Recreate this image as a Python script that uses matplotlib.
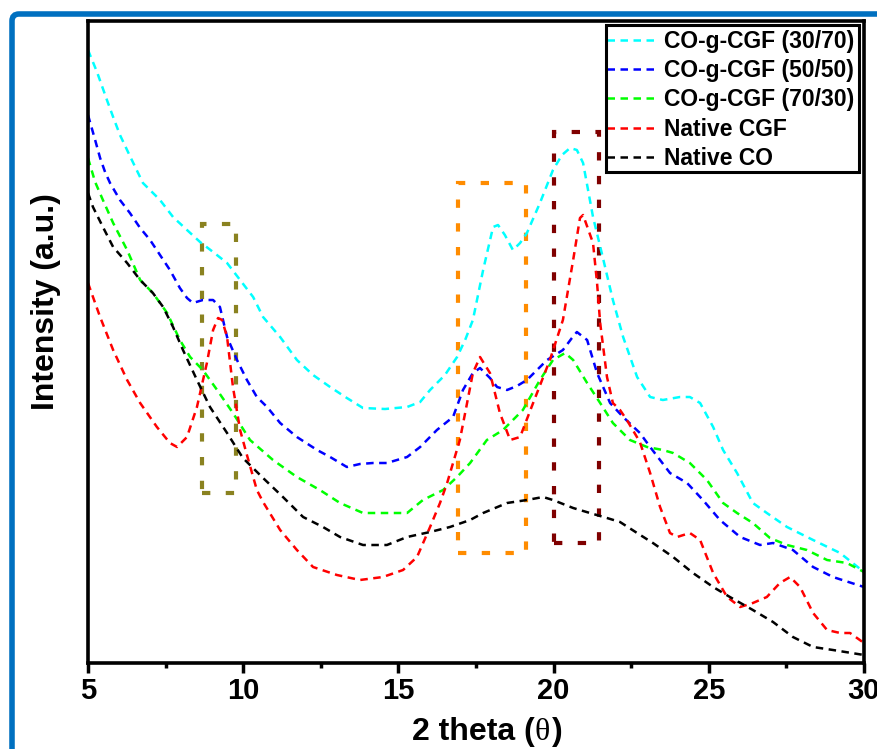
import matplotlib
matplotlib.use('Agg')
import matplotlib.pyplot as plt
from matplotlib.patches import Rectangle, FancyBboxPatch
from matplotlib.transforms import IdentityTransform
from matplotlib.ticker import MultipleLocator

plt.rcParams['font.family'] = ['Liberation Sans', 'DejaVu Sans']
plt.rcParams['font.weight'] = 'bold'

# XRD patterns, 2 theta (deg) vs intensity (a.u., stacked)
theta_3070 = [5.00, 5.29, 5.61, 5.81, 6.03, 6.35, 6.77, 7.32, 7.74, 8.19, 8.61, 9.03, 9.48, 9.90,
              10.32, 10.64, 11.19, 11.73, 12.25, 12.80, 13.34, 13.86, 14.57, 15.28, 15.70, 16.02,
              16.50, 16.89, 17.15, 17.40, 17.73, 18.05, 18.21, 18.43, 18.69, 18.92, 19.14, 19.56,
              19.98, 20.27, 20.53, 20.75, 20.95, 21.27, 21.59, 21.91, 22.24, 22.69, 23.11, 23.52,
              24.07, 24.39, 24.72, 25.14, 25.46, 25.91, 26.42, 26.87, 27.52, 28.36, 29.23, 30.00]
int_3070 = [613, 591, 563, 546, 528, 507, 480, 463, 446, 433, 421, 411, 400, 383,
            366, 346, 326, 303, 288, 276, 265, 255, 254, 256, 261, 273,
            288, 306, 323, 343, 393, 436, 438, 428, 413, 420, 430, 460,
            493, 508, 515, 513, 500, 446, 405, 363, 326, 286, 266, 263,
            266, 266, 260, 236, 213, 190, 160, 150, 136, 123, 110, 91]

theta_5050 = [5.00, 5.23, 5.39, 5.55, 5.71, 6.03, 6.35, 6.68, 7.00, 7.32, 7.64, 7.96, 8.19, 8.38,
              8.70, 9.03, 9.25, 9.48, 9.80, 10.12, 10.44, 10.77, 11.19, 11.73, 12.38, 12.80, 13.34,
              13.76, 14.18, 14.63, 15.28, 15.70, 16.24, 16.76, 17.08, 17.40, 17.63, 17.95, 18.18,
              18.50, 18.82, 19.14, 19.79, 20.30, 20.59, 20.75, 21.08, 21.40, 21.82, 22.24, 22.78,
              23.11, 23.75, 24.30, 24.81, 25.36, 26.01, 26.65, 27.07, 27.71, 28.36, 29.00, 30.00]
int_5050 = [548, 523, 505, 491, 480, 463, 450, 435, 423, 408, 393, 375, 365, 360,
            363, 363, 356, 326, 303, 283, 266, 256, 240, 226, 213, 206, 196,
            199, 200, 200, 206, 216, 233, 246, 273, 290, 295, 285, 276,
            273, 277, 283, 303, 313, 325, 331, 323, 290, 260, 246, 230,
            216, 190, 180, 163, 143, 126, 118, 120, 113, 96, 86, 76]

theta_7030 = [5.00, 5.23, 5.48, 5.81, 6.26, 6.68, 7.09, 7.55, 7.96, 8.29, 8.70, 9.16, 9.67, 10.22,
              10.96, 11.73, 12.47, 13.12, 13.86, 14.63, 15.28, 15.79, 16.44, 16.89, 17.31, 17.85,
              18.37, 19.01, 19.56, 19.98, 20.37, 20.63, 21.08, 21.50, 21.91, 22.46, 23.01, 23.52,
              23.85, 24.39, 24.94, 25.46, 25.91, 26.42, 26.97, 27.52, 28.16, 28.81, 29.45, 30.00]
int_7030 = [505, 481, 463, 440, 413, 383, 370, 350, 323, 306, 293, 273, 250, 223,
            203, 186, 173, 160, 150, 150, 150, 163, 173, 186, 200, 223,
            233, 253, 283, 303, 310, 303, 280, 260, 240, 223, 216, 213,
            210, 200, 183, 160, 150, 140, 125, 118, 113, 103, 100, 91]

theta_cgf = [5.00, 5.39, 5.81, 6.26, 6.68, 7.22, 7.64, 7.87, 8.19, 8.51, 8.83, 9.03, 9.19, 9.32,
             9.48, 9.67, 9.90, 10.12, 10.44, 10.64, 11.19, 11.73, 12.25, 13.02, 13.76, 14.50,
             15.15, 15.60, 16.02, 16.34, 16.57, 16.76, 16.98, 17.15, 17.40, 17.63, 17.95, 18.27,
             18.60, 18.92, 19.34, 19.88, 20.30, 20.63, 20.85, 20.95, 21.27, 21.40, 21.50, 21.72,
             21.91, 22.14, 22.36, 22.78, 23.11, 23.43, 23.75, 23.98, 24.39, 24.72, 25.14, 25.59,
             26.01, 26.42, 26.87, 27.29, 27.62, 27.94, 28.36, 28.81, 29.23, 29.55, 30.00]
int_cgf = [380, 346, 313, 283, 260, 236, 220, 216, 226, 256, 300, 333, 345, 343,
           326, 276, 233, 208, 173, 161, 133, 113, 96, 88, 83, 86,
           93, 106, 136, 160, 180, 200, 223, 250, 290, 306, 290, 250,
           223, 226, 260, 303, 343, 403, 445, 448, 420, 380, 340, 286,
           260, 253, 243, 221, 190, 156, 130, 126, 130, 123, 90, 66,
           56, 60, 66, 80, 86, 76, 50, 33, 30, 30, 20]

theta_co = [5.00, 5.16, 5.48, 5.81, 6.26, 6.68, 7.09, 7.42, 7.74, 8.06, 8.51, 8.93, 9.48, 9.99,
            10.64, 11.28, 11.93, 12.57, 13.12, 13.86, 14.63, 15.28, 16.02, 16.66, 17.31, 17.73,
            18.50, 19.14, 19.66, 19.98, 20.63, 21.17, 21.72, 22.14, 22.69, 23.20, 23.85, 24.49,
            25.14, 25.68, 26.42, 27.07, 27.71, 28.36, 29.00, 30.00]
int_co = [470, 456, 436, 416, 400, 383, 370, 356, 336, 313, 283, 256, 230, 205,
          185, 166, 146, 136, 126, 118, 118, 126, 131, 136, 143, 150,
          160, 163, 166, 163, 155, 150, 145, 141, 130, 120, 106, 90,
          76, 66, 53, 41, 26, 16, 13, 8]

series_labels = ['CO-g-CGF (30/70)', 'CO-g-CGF (50/50)', 'CO-g-CGF (70/30)', 'Native CGF', 'Native CO']
series_colors = ['#00FFFF', '#0000FF', '#00FF00', '#FF0000', '#000000']

# highlighted peak regions: (2 theta range, intensity range)
box_theta = [(8.67, 9.77), (16.92, 19.11), (20.01, 21.46)]
box_int = [(170, 439), (110, 480), (120, 531)]
box_colors = ['#8A8220', '#FF8C00', '#7F0000']

fig = plt.figure(figsize=(8.78, 7.49), dpi=100)
ax = fig.add_axes([88 / 878, 1 - 663 / 749, 776 / 878, 642 / 749])

curves = [(theta_3070, int_3070), (theta_5050, int_5050), (theta_7030, int_7030),
          (theta_cgf, int_cgf), (theta_co, int_co)]
for (tx, ty), lab, col in zip(curves, series_labels, series_colors):
    ax.plot(tx, ty, color=col, lw=1.8, ls=(0, (3, 2.2)), label=lab)

for (x0, x1), (y0, y1), col in zip(box_theta, box_int, box_colors):
    ax.add_patch(Rectangle((x0, y0), x1 - x0, y1 - y0, fill=False, ec=col,
                           lw=3, ls=(0, (2, 3.7))))

ax.set_xlim(5, 30)
ax.set_ylim(0, 642)
ax.xaxis.set_major_locator(MultipleLocator(5))
ax.xaxis.set_minor_locator(MultipleLocator(2.5))
ax.tick_params(axis='x', which='major', direction='out', length=7, width=2.5,
               labelsize=21, pad=3, top=False)
ax.tick_params(axis='x', which='minor', direction='out', length=3.5, width=2.5, top=False)
ax.set_yticks([])
for sp in ax.spines.values():
    sp.set_linewidth(2.6)
for lbl in ax.get_xticklabels():
    lbl.set_fontweight('bold')

# theta drawn in a serif face next to the sans label text
fig.text(535 / 878, 1 - 732 / 749, '2 theta (', fontsize=23, fontweight='bold',
         ha='right', va='center')
fig.text(535 / 878, 1 - 732 / 749, 'θ', fontsize=23, family=['Liberation Serif'],
         fontweight='normal', ha='left', va='center')
fig.text(552 / 878, 1 - 732 / 749, ')', fontsize=23, fontweight='bold',
         ha='left', va='center')
fig.text(46 / 878, 1 - 302 / 749, 'Intensity (a.u.)', fontsize=23, fontweight='bold',
         rotation=90, ha='center', va='center')

leg = ax.legend(loc='upper left', bbox_to_anchor=(607 / 878, 1 - 30 / 749),
                bbox_transform=fig.transFigure, borderaxespad=0, frameon=False,
                prop={'size': 16.5, 'weight': 'bold'},
                handlelength=2.2, handletextpad=0.27, borderpad=0, labelspacing=0.27)

# legend box drawn separately so its padding can be set freely
fig.patches.append(Rectangle((606, 749 - 172), 253, 147, transform=IdentityTransform(),
                             fill=False, ec='black', lw=2.2))

# outer blue frame, partly running off the canvas
fig.patches.append(FancyBboxPatch((12, -60), 1000, 749 - 14 + 60,
                                  boxstyle='round,pad=0,rounding_size=7',
                                  transform=IdentityTransform(), fill=False,
                                  ec='#0070C0', lw=4))

fig.savefig('out.png', dpi=100)
